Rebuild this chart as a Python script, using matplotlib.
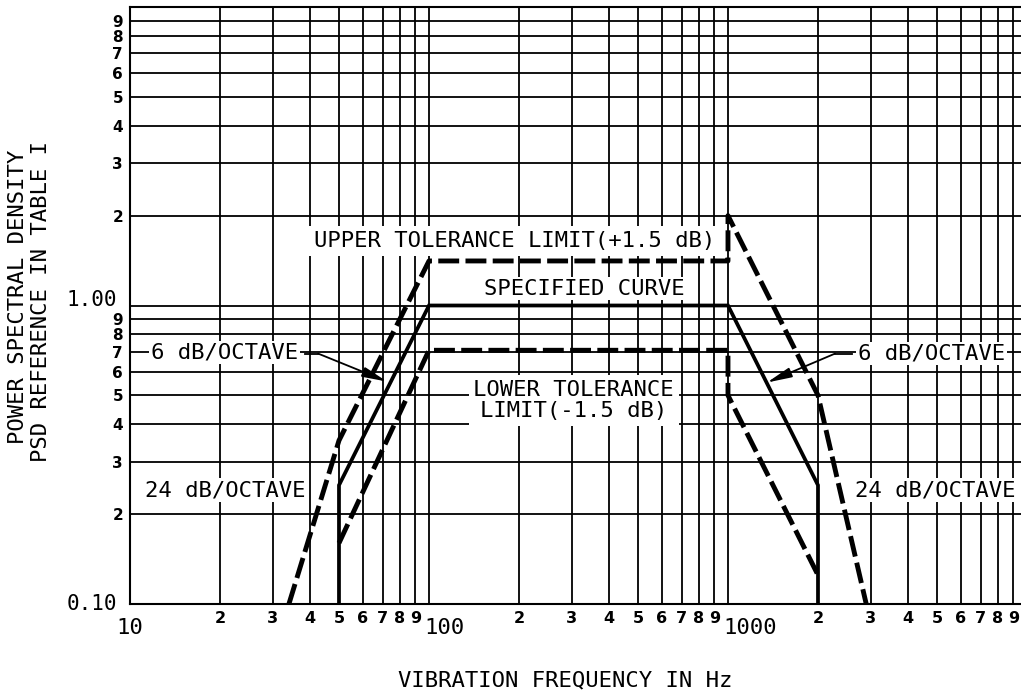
import matplotlib
matplotlib.use("Agg")
import matplotlib.pyplot as plt

# breakpoints of the three PSD curves (Hz, relative PSD)
spec_freq = [50, 50, 100, 1000, 2000, 2000]
spec_psd = [0.10, 0.25, 1.00, 1.00, 0.25, 0.10]
upper_freq = [34, 50, 100, 1000, 1000, 2000, 2900]
upper_psd = [0.10, 0.353, 1.41, 1.41, 2.00, 0.50, 0.10]
lower_freq = [50, 100, 1000, 1000, 2000]
lower_psd = [0.16, 0.708, 0.708, 0.50, 0.125]

x_major = [10, 100, 1000]
x_major_labels = ["10", "100", "1000"]
x_minor = [d * 10 ** k for k in (1, 2, 3) for d in range(2, 10)]
y_major = [0.1, 1.0, 10.0]
y_major_labels = ["0.10", "1.00", ""]
y_minor = [d * 10.0 ** k for k in (-1, 0) for d in range(2, 10)]

# callout text anchors (Hz, PSD)
upper_lbl = (193, 1.646)
spec_lbl = (330, 1.14)
lower_lbl = (305, 0.48)
oct6_left = (20.7, 0.695)
oct6_right = (4790, 0.69)
oct24_left = (20.8, 0.2405)
oct24_right = (4920, 0.2405)
# leader lines: start of text side, elbow, arrow tip
lead_left = [(38.5, 0.69), (42.6, 0.69), (72.4, 0.556)]
lead_right = [(2600, 0.69), (2280, 0.69), (1350, 0.552)]

MONO = "DejaVu Sans Mono"
FS = 16

fig = plt.figure(figsize=(10.21, 6.92), dpi=100)
ax = fig.add_axes([130 / 1021, 88 / 692, 891 / 1021, 597 / 692])
ax.set_xscale("log")
ax.set_yscale("log")
ax.set_xlim(10, 9550)
ax.set_ylim(0.1, 10)

ax.set_xticks(x_major, ["", "", ""])
ax.set_xticks(x_minor, [str(int(round(v / 10 ** (len(str(int(v))) - 1)))) for v in x_minor], minor=True)
ax.set_yticks(y_major, ["", "", ""])
ax.set_yticks(y_minor, [str(int(round(v / 10.0 ** (0 if v >= 1 else -1)))) for v in y_minor], minor=True)

ax.grid(True, which="both", color="black", linewidth=1.3)
ax.set_axisbelow(True)
ax.tick_params(which="both", length=0)
ax.tick_params(axis="y", which="minor", pad=5, labelsize=11)
ax.tick_params(axis="x", which="minor", pad=5, labelsize=11.5)
for t in ax.get_yticklabels(minor=True) + ax.get_xticklabels(minor=True):
    t.set_family("DejaVu Sans")
    t.set_fontweight("bold")

for s in ("left", "bottom", "top"):
    ax.spines[s].set_linewidth(1.5)
ax.spines["right"].set_visible(False)

# major PSD labels, "1.00" sits a little above its line
for yv, lab in zip(y_major, y_major_labels):
    if lab:
        dy = 4 if yv == 1.0 else 0
        ax.annotate(lab, xy=(0, yv), xycoords=("axes fraction", "data"),
                    xytext=(-9.5, dy), textcoords="offset points",
                    ha="right", va="center", family=MONO, fontsize=15)

# major frequency labels sit below and to the right of their grid line
for xv, lab in zip(x_major, x_major_labels):
    ha = "center" if xv == 10 else "left"
    dx = 0 if xv == 10 else -3.5
    ax.annotate(lab, xy=(xv, 0), xycoords=("data", "axes fraction"),
                xytext=(dx, -17.6), textcoords="offset points",
                ha=ha, va="center", family=MONO, fontsize=FS)

# curves
ax.plot(spec_freq, spec_psd, color="black", lw=2.7, zorder=5,
        solid_joinstyle="miter")
ax.plot(upper_freq, upper_psd, color="black", lw=3.5, dashes=(4.3, 1.3),
        zorder=5)
ax.plot(lower_freq, lower_psd, color="black", lw=3.5, dashes=(4.3, 1.3),
        zorder=5)

box = dict(boxstyle="square,pad=0.22", facecolor="white", edgecolor="none")
tight = dict(boxstyle="square,pad=0.08", facecolor="white", edgecolor="none")
txt = dict(family=MONO, fontsize=FS, ha="center", va="center", zorder=3)

ax.text(*upper_lbl, "UPPER TOLERANCE LIMIT(+1.5 dB)", bbox=box, **txt)
ax.text(*spec_lbl, "SPECIFIED CURVE", bbox=tight, **txt)
ax.text(*lower_lbl, "LOWER TOLERANCE\nLIMIT(-1.5 dB)", bbox=box,
        linespacing=1.05, **txt)
ax.text(*oct6_left, "6 dB/OCTAVE", bbox=tight, **txt)
ax.text(*oct6_right, "6 dB/OCTAVE", bbox=tight, **txt)
ax.text(*oct24_left, "24 dB/OCTAVE", bbox=tight, **txt)
ax.text(*oct24_right, "24 dB/OCTAVE", bbox=tight, **txt)

for lead in (lead_left, lead_right):
    (x0, y0), (x1, y1), tip = lead
    ax.plot([x0, x1], [y0, y1], color="black", lw=1.3, zorder=4)
    ax.annotate("", xy=tip, xytext=(x1, y1), zorder=4,
                arrowprops=dict(arrowstyle="-|>,head_length=1.5,head_width=0.3",
                                color="black", lw=1.3, shrinkA=0, shrinkB=0))

fig.text(565 / 1021, 1 - 680 / 692, "VIBRATION FREQUENCY IN Hz",
         ha="center", va="center", family=MONO, fontsize=FS)
fig.text(18 / 1021, 1 - 297 / 692, "POWER SPECTRAL DENSITY", rotation=90,
         ha="center", va="center", family=MONO, fontsize=FS)
fig.text(41 / 1021, 1 - 301 / 692, "PSD REFERENCE IN TABLE I", rotation=90,
         ha="center", va="center", family=MONO, fontsize=FS)

fig.savefig("out.png", dpi=100, facecolor="white")
